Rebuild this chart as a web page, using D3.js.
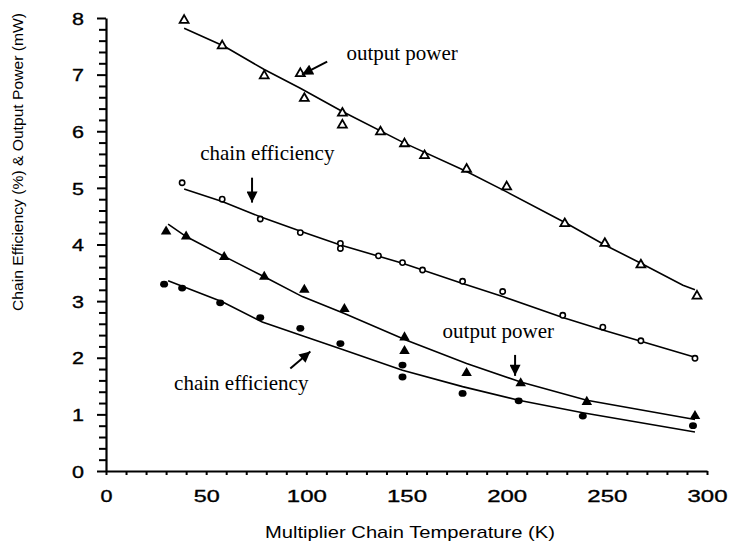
<!DOCTYPE html>
<html>
<head>
<meta charset="utf-8">
<script src="https://cdn.jsdelivr.net/npm/d3@7"></script>
<style>
  html, body { margin: 0; padding: 0; background: #fff; }
  svg { display: block; }
</style>
</head>
<body>
<div id="chart"></div>
<script>
// temperatures (K) and values
const openTriT = [39, 58, 79, 97, 99, 118, 118, 137, 149, 159, 180, 200, 229, 249, 267, 295];
const openTriV = [7.96, 7.51, 6.98, 7.02, 6.58, 6.32, 6.11, 5.99, 5.78, 5.57, 5.33, 5.02, 4.37, 4.02, 3.64, 3.09];

const openCircT = [38, 58, 77, 97, 117, 117, 136, 148, 158, 178, 198, 228, 248, 267, 294];
const openCircV = [5.09, 4.80, 4.45, 4.21, 4.02, 3.93, 3.80, 3.68, 3.55, 3.35, 3.17, 2.75, 2.54, 2.30, 1.99];

const fillTriT = [30, 40, 59, 79, 99, 119, 149, 149, 180, 207, 240, 294];
const fillTriV = [4.23, 4.14, 3.78, 3.43, 3.20, 2.86, 2.36, 2.12, 1.73, 1.55, 1.22, 0.97];

const fillCircT = [29, 38, 57, 77, 97, 117, 148, 148, 178, 206, 238, 293];
const fillCircV = [3.30, 3.23, 2.97, 2.71, 2.52, 2.25, 1.87, 1.66, 1.37, 1.24, 0.97, 0.80];

// fitted curves as drawn in the figure
const fitPowerHiT = [39, 59, 79, 97, 118, 149, 180, 200, 230, 249, 267, 288, 294];
const fitPowerHiV = [7.82, 7.50, 7.09, 6.76, 6.35, 5.79, 5.29, 4.93, 4.37, 3.99, 3.67, 3.28, 3.20];

const fitEffHiT = [39, 58, 77, 100, 117, 148, 178, 198, 228, 248, 294];
const fitEffHiV = [4.98, 4.76, 4.49, 4.20, 3.99, 3.67, 3.31, 3.08, 2.71, 2.49, 2.01];

const fitPowerLoT = [31, 40, 59, 79, 98, 119, 150, 180, 207, 240, 294];
const fitPowerLoV = [4.36, 4.14, 3.79, 3.43, 3.08, 2.78, 2.31, 1.90, 1.57, 1.25, 0.91];

const fitEffLoT = [31, 58, 78, 102, 117, 148, 178, 206, 238, 294];
const fitEffLoV = [3.36, 2.99, 2.63, 2.34, 2.16, 1.78, 1.49, 1.25, 1.03, 0.69];

const xTicks = [0, 50, 100, 150, 200, 250, 300];
const yTicks = [0, 1, 2, 3, 4, 5, 6, 7, 8];

// annotation labels and arrows (data coordinates)
const labelText = ['output power', 'chain efficiency', 'output power', 'chain efficiency'];
const labelT = [120, 47, 168, 34];
const labelV = [7.26, 5.50, 2.35, 1.43];
const arrowFrom = [[110.4, 7.23], [72.9, 5.18], [204.2, 2.05], [92, 1.81]];
const arrowTo = [[97.8, 7.0], [72.9, 4.74], [204.2, 1.68], [102, 2.11]];

const widthSvg = 740;
const heightSvg = 544;
const margin = { top: 18, right: 33, bottom: 73, left: 106 };
const widthChart = widthSvg - margin.left - margin.right;
const heightChart = heightSvg - margin.top - margin.bottom;

const zip = (ts, vs) => ts.map((t, i) => ({ t, v: vs[i] }));

const scaleX = d3.scaleLinear().domain([0, 300]).range([0, widthChart]);
const scaleY = d3.scaleLinear().domain([0, 8]).range([heightChart, 0]);

const svg = d3.select('#chart').append('svg')
  .attr('width', widthSvg)
  .attr('height', heightSvg);

svg.append('defs').append('marker')
  .attr('id', 'head')
  .attr('viewBox', '0 0 10 10')
  .attr('refX', 10)
  .attr('refY', 5)
  .attr('markerUnits', 'userSpaceOnUse')
  .attr('markerWidth', 12)
  .attr('markerHeight', 11)
  .attr('orient', 'auto')
  .append('path')
  .attr('d', 'M0,0 L10,5 L0,10 Z')
  .attr('fill', '#000');

const g = svg.append('g')
  .attr('transform', `translate(${margin.left}, ${margin.top})`);

// axes
const axisX = d3.axisBottom(scaleX)
  .tickValues(d3.range(0, 301, 10))
  .tickSize(4)
  .tickSizeOuter(0)
  .tickFormat(d => xTicks.includes(d) ? d : '');

const axisY = d3.axisLeft(scaleY)
  .tickValues(d3.range(0, 8.01, 0.2).map(d => +d.toFixed(1)))
  .tickSize(8)
  .tickSizeOuter(0)
  .tickFormat(d => yTicks.includes(d) ? d : '');

const gx = g.append('g')
  .attr('transform', `translate(0, ${heightChart})`)
  .call(axisX);

const gy = g.append('g').call(axisY);

[gx, gy].forEach(ax => {
  ax.select('.domain').attr('stroke', '#000').attr('stroke-width', 2.2);
  ax.selectAll('.tick line').attr('stroke', '#000').attr('stroke-width', 2);
  ax.selectAll('.tick text')
    .attr('fill', '#000')
    .attr('stroke', '#000')
    .attr('stroke-width', 0.35)
    .style('font-family', '"Liberation Sans", Arial, sans-serif')
    .style('font-size', '17px')
    .attr('lengthAdjust', 'spacingAndGlyphs')
    .each(function (d) {
      const s = d3.select(this).text();
      if (s) d3.select(this).attr('textLength', 14 * s.length - 2);
    });
});

gx.selectAll('.tick text').attr('y', 31).attr('dy', 0);
gy.selectAll('.tick text').attr('x', -22).attr('dy', '0.36em');
gy.selectAll('.tick line').attr('x2', d => yTicks.includes(d) ? -9 : -7);

// axis titles
svg.append('text')
  .attr('x', 410)
  .attr('y', 538)
  .attr('text-anchor', 'middle')
  .attr('textLength', 290)
  .attr('lengthAdjust', 'spacingAndGlyphs')
  .style('font-family', '"Liberation Sans", Arial, sans-serif')
  .style('font-size', '17px')
  .attr('fill', '#000')
  .text('Multiplier Chain Temperature (K)');

svg.append('text')
  .attr('transform', 'translate(23, 162) rotate(-90)')
  .attr('text-anchor', 'middle')
  .attr('textLength', 298)
  .attr('lengthAdjust', 'spacingAndGlyphs')
  .style('font-family', '"Liberation Sans", Arial, sans-serif')
  .style('font-size', '14px')
  .attr('fill', '#000')
  .text('Chain Efficiency (%) & Output Power (mW)');

// fitted lines
const line = d3.line().x(d => scaleX(d.t)).y(d => scaleY(d.v));
[[fitPowerHiT, fitPowerHiV], [fitEffHiT, fitEffHiV], [fitPowerLoT, fitPowerLoV], [fitEffLoT, fitEffLoV]]
  .forEach(([ts, vs]) => {
    g.append('path')
      .datum(zip(ts, vs))
      .attr('d', line)
      .attr('fill', 'none')
      .attr('stroke', '#000')
      .attr('stroke-width', 1.6);
  });

// markers
const tri = d3.symbol().type(d3.symbolTriangle);
const circ = d3.symbol().type(d3.symbolCircle);

g.append('g').selectAll('path')
  .data(zip(openTriT, openTriV))
  .join('path')
  .attr('transform', d => `translate(${scaleX(d.t)}, ${scaleY(d.v)})`)
  .attr('d', tri.size(34)())
  .attr('fill', '#fff')
  .attr('stroke', '#000')
  .attr('stroke-width', 1.8);

g.append('g').selectAll('path')
  .data(zip(openCircT, openCircV))
  .join('path')
  .attr('transform', d => `translate(${scaleX(d.t)}, ${scaleY(d.v)})`)
  .attr('d', circ.size(22)())
  .attr('fill', '#fff')
  .attr('stroke', '#000')
  .attr('stroke-width', 1.6);

g.append('g').selectAll('path')
  .data(zip(fillTriT, fillTriV))
  .join('path')
  .attr('transform', d => `translate(${scaleX(d.t)}, ${scaleY(d.v)})`)
  .attr('d', tri.size(48)())
  .attr('fill', '#000');

g.append('g').selectAll('ellipse')
  .data(zip(fillCircT, fillCircV))
  .join('ellipse')
  .attr('cx', d => scaleX(d.t))
  .attr('cy', d => scaleY(d.v))
  .attr('rx', 4)
  .attr('ry', 3.4)
  .attr('fill', '#000');

// annotations
g.append('g').selectAll('text')
  .data(labelText)
  .join('text')
  .attr('x', (d, i) => scaleX(labelT[i]))
  .attr('y', (d, i) => scaleY(labelV[i]))
  .style('font-family', '"Liberation Serif", "Times New Roman", serif')
  .style('font-size', '21px')
  .attr('fill', '#000')
  .text(d => d);

g.append('g').selectAll('line')
  .data(arrowFrom)
  .join('line')
  .attr('x1', d => scaleX(d[0]))
  .attr('y1', d => scaleY(d[1]))
  .attr('x2', (d, i) => scaleX(arrowTo[i][0]))
  .attr('y2', (d, i) => scaleY(arrowTo[i][1]))
  .attr('stroke', '#000')
  .attr('stroke-width', 2)
  .attr('marker-end', 'url(#head)');
</script>
</body>
</html>
